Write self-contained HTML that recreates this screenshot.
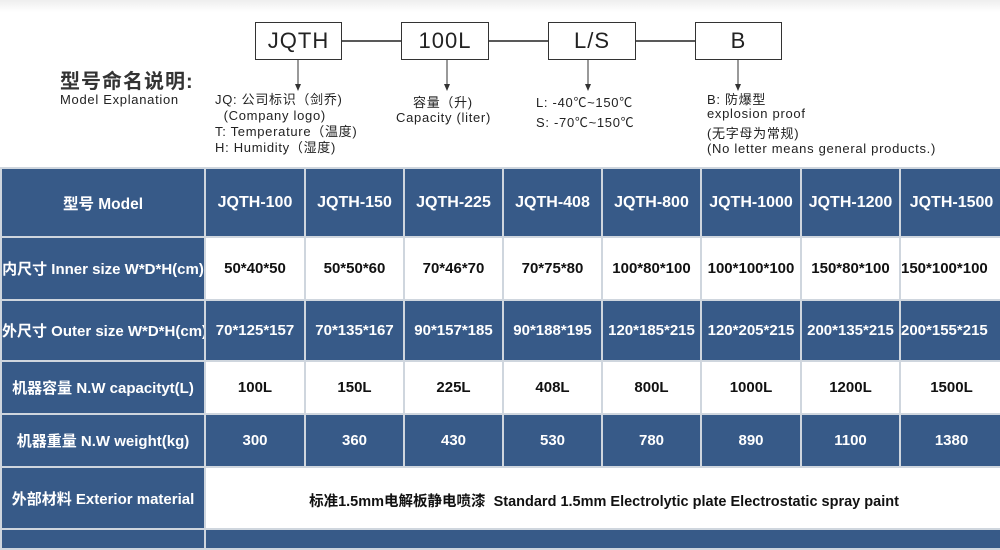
<!DOCTYPE html>
<html><head><meta charset="utf-8"><style>
body{margin:0;width:1000px;height:535px;overflow:hidden;background:#fff;position:relative;font-family:"Liberation Sans","Noto Sans CJK SC",sans-serif;}
.a{position:absolute;white-space:nowrap;}
.box{position:absolute;border:1.5px solid #333;box-sizing:border-box;height:38px;top:22px;font-size:22px;text-align:center;line-height:36px;color:#222;letter-spacing:1px;}
.t{font-size:13px;color:#222;letter-spacing:0.7px;}
table{position:absolute;left:0;top:167px;border-collapse:collapse;width:1002px;table-layout:fixed;}
td{border:2px solid #cfd6de;text-align:center;font-weight:bold;font-size:15px;padding:0;white-space:nowrap;overflow:hidden;}
.b{background:#375a88;color:#fff;}
.w{background:#fff;color:#111;}
</style></head><body>
<div style="position:absolute;left:0;top:0;width:1000px;height:12px;background:linear-gradient(#eee,#fff)"></div>
<svg class="a" style="left:0;top:0" width="1000" height="100">
<line x1="341" y1="41" x2="401" y2="41" stroke="#222" stroke-width="1.5"/>
<line x1="488" y1="41" x2="548" y2="41" stroke="#222" stroke-width="1.5"/>
<line x1="635" y1="41" x2="695" y2="41" stroke="#222" stroke-width="1.5"/>
<g stroke="#333" stroke-width="1"><line x1="298" y1="60" x2="298" y2="86"/><line x1="447" y1="60" x2="447" y2="86"/><line x1="588" y1="60" x2="588" y2="86"/><line x1="738" y1="60" x2="738" y2="86"/></g>
<g fill="#333"><path d="M295 84h6l-3 7z"/><path d="M444 84h6l-3 7z"/><path d="M585 84h6l-3 7z"/><path d="M735 84h6l-3 7z"/></g>
</svg>
<div class="box" style="left:255px;width:87px">JQTH</div>
<div class="box" style="left:401px;width:88px">100L</div>
<div class="box" style="left:548px;width:88px">L/S</div>
<div class="box" style="left:695px;width:87px">B</div>
<div class="a" style="left:60px;top:72px;font-size:20px;line-height:20px;font-weight:bold;color:#333;letter-spacing:1px">型号命名说明:</div>
<div class="a t" style="left:60px;top:93px;line-height:14px">Model Explanation</div>
<div class="a t" style="left:215px;top:92px;line-height:16px">JQ: 公司标识（剑乔)<br>&nbsp;&nbsp;(Company logo)<br>T: Temperature（温度)<br>H: Humidity（湿度)</div>
<div class="a t" style="left:413px;top:92px">容量（升)</div>
<div class="a t" style="left:396px;top:110px">Capacity (liter)</div>
<div class="a t" style="left:536px;top:93px;line-height:20px">L: -40℃~150℃<br>S: -70℃~150℃</div>
<div class="a t" style="left:707px;top:93px;line-height:14px">B: 防爆型<br>explosion proof</div>
<div class="a t" style="left:707px;top:126px;line-height:15px">(无字母为常规)<br>(No letter means general products.)</div>
<table>
<colgroup><col style="width:204px"><col style="width:100px"><col style="width:99px"><col style="width:99px"><col style="width:99px"><col style="width:99px"><col style="width:100px"><col style="width:99px"><col style="width:103px"></colgroup>
<tr class="b" style="height:69px"><td style="font-size:15.5px">型号 Model</td><td style="font-size:16px">JQTH-100</td><td style="font-size:16px">JQTH-150</td><td style="font-size:16px">JQTH-225</td><td style="font-size:16px">JQTH-408</td><td style="font-size:16px">JQTH-800</td><td style="font-size:16px">JQTH-1000</td><td style="font-size:16px">JQTH-1200</td><td style="font-size:16px">JQTH-1500</td></tr>
<tr style="height:63px"><td class="b">内尺寸 Inner size W*D*H(cm)</td><td class="w">50*40*50</td><td class="w">50*50*60</td><td class="w">70*46*70</td><td class="w">70*75*80</td><td class="w">100*80*100</td><td class="w">100*100*100</td><td class="w">150*80*100</td><td class="w" style="text-align:left">150*100*100</td></tr>
<tr class="b" style="height:61px"><td>外尺寸 Outer size W*D*H(cm)</td><td>70*125*157</td><td>70*135*167</td><td>90*157*185</td><td>90*188*195</td><td>120*185*215</td><td>120*205*215</td><td>200*135*215</td><td style="text-align:left">200*155*215</td></tr>
<tr style="height:53px"><td class="b">机器容量 N.W capacityt(L)</td><td class="w">100L</td><td class="w">150L</td><td class="w">225L</td><td class="w">408L</td><td class="w">800L</td><td class="w">1000L</td><td class="w">1200L</td><td class="w">1500L</td></tr>
<tr class="b" style="height:53px"><td>机器重量 N.W weight(kg)</td><td>300</td><td>360</td><td>430</td><td>530</td><td>780</td><td>890</td><td>1100</td><td>1380</td></tr>
<tr style="height:62px"><td class="b">外部材料 Exterior material</td><td class="w" colspan="8" style="font-size:14.5px;vertical-align:top;padding-top:22px">标准1.5mm电解板静电喷漆&nbsp; Standard 1.5mm Electrolytic plate Electrostatic spray paint</td></tr>
<tr class="b" style="height:20px"><td></td><td colspan="8"></td></tr>
</table>
</body></html>
